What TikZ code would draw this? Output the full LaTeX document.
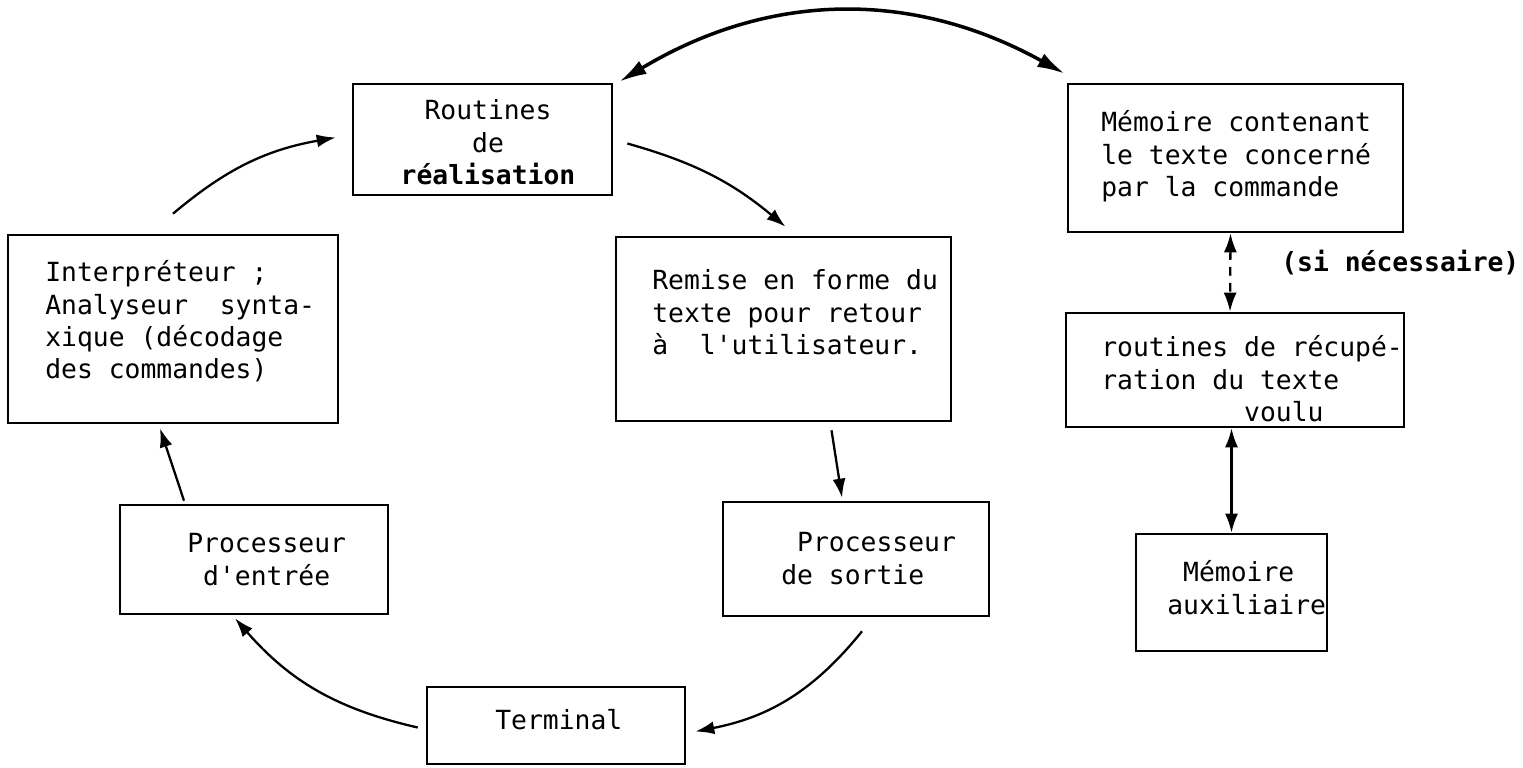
\documentclass[tikz,border=0pt]{standalone}
\usepackage{fontspec}
\setmonofont{DejaVu Sans Mono}
\usetikzlibrary{arrows.meta}

\newcommand{\lignes}[2][l]{\begin{tabular}[t]{@{}#1@{}}#2\end{tabular}}
\newcommand{\esp}[1]{\hspace*{#1\dimexpr0.602em\relax}}

\tikzset{
  boite/.style={draw, line width=1.5pt, inner sep=0pt},
  texte/.style={inner sep=0pt, anchor=base west, font=\ttfamily\fontsize{15pt}{18.4pt}\selectfont},
  fleche/.style={-{Latex[length=3.8mm,width=2.6mm]}, line width=1.3pt},
  fleches/.style={{Latex[length=3.8mm,width=2.6mm]}-{Latex[length=3.8mm,width=2.6mm]}, line width=1.3pt},
}

\begin{document}
\begin{tikzpicture}[x=0.02cm, y=0.02cm]
    \useasboundingbox (0,0) rectangle (1523,767);

    % boites
    \node[boite, minimum width=5.18cm, minimum height=2.22cm] (routines) at (482.5,627.5) {};
    \node[boite, minimum width=6.60cm, minimum height=3.76cm] (interp) at (173,438) {};
    \node[boite, minimum width=6.70cm, minimum height=3.68cm] (remise) at (783.5,438) {};
    \node[boite, minimum width=6.70cm, minimum height=2.96cm] (memoire) at (1235.5,609) {};
    \node[boite, minimum width=6.76cm, minimum height=2.28cm] (recup) at (1235,397) {};
    \node[boite, minimum width=5.36cm, minimum height=2.18cm] (entree) at (254,207.5) {};
    \node[boite, minimum width=5.32cm, minimum height=2.28cm] (sortie) at (856,208) {};
    \node[boite, minimum width=3.82cm, minimum height=2.34cm] (aux) at (1231.5,174.5) {};
    \node[boite, minimum width=5.16cm, minimum height=1.54cm] (terminal) at (556,41.5) {};

    % textes
    \node[texte, anchor=base] (routinesT) at (488,647) {\lignes[c]{Routines\\de\\\textbf{réalisation}}};
    \node[texte] (interpT) at (45,485) {\lignes{Interpréteur ;\\Analyseur~~synta-\\xique (décodage\\des commandes)}};
    \node[texte] (remiseT) at (652,477) {\lignes{Remise en forme du\\texte pour retour\\à~~l'utilisateur.}};
    \node[texte] (memoireT) at (1101,635) {\lignes{Mémoire contenant\\le texte concerné\\par la commande}};
    \node[texte] (siT) at (1281,495) {\textbf{(si nécessaire)}};
    \node[texte] (recupT) at (1101,410) {\lignes{routines de récupé-\\ration du texte\\\esp{9}voulu}};
    \node[texte] (entreeT) at (187,214) {\lignes{Processeur\\\esp{1}d'entrée}};
    \node[texte] (sortieT) at (781,215) {\lignes{\esp{1}Processeur\\de sortie}};
    \node[texte] (auxT) at (1167,185) {\lignes{\esp{1}Mémoire\\auxiliaire}};
    \node[texte] (terminalT) at (495,38) {Terminal};

    % cycle
    \draw[fleche] ([shift={(0,20)}]interp.north) to[bend left=15] ([shift={(-16,2)}]routines.west);
    \draw[fleche] ([shift={(14,-4)}]routines.east) to[bend left=12] ([shift={(2,9)}]remise.north);
    \draw[fleche] ([shift={(48,-8)}]remise.south) -- ([shift={(-14,3)}]sortie.north);
    \draw[fleche] ([shift={(6,-14)}]sortie.south) to[bend left=20] ([shift={(9,-6)}]terminal.east);
    \draw[fleche] ([shift={(-8,-2)}]terminal.west) to[bend left=18] ([shift={(-19,-3)}]entree.south);
    \draw[fleche] ([shift={(-70,3)}]entree.north) -- ([shift={(-13,-4)}]interp.south);

    % memoires
    \draw[{Latex[length=5.5mm,width=3mm]}-{Latex[length=5.5mm,width=3mm]}, line width=2pt] ([shift={(6,1)}]routines.north east) to[bend left=30] ([shift={(-2,9)}]memoire.north west);
    \draw[fleches, dash pattern=on 5pt off 4pt] ([shift={(-5,0)}]memoire.south) -- ([shift={(-5,0)}]recup.north);
    \draw[fleches] (recup.south -| aux.north) -- (aux.north);
\end{tikzpicture}
\end{document}
